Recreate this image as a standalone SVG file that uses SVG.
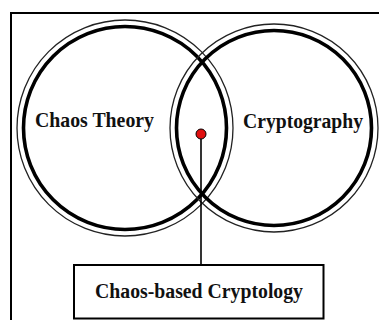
<svg xmlns="http://www.w3.org/2000/svg" width="379" height="320" viewBox="0 0 379 320">
<style>
.thin{fill:none;stroke:#222;stroke-width:1.3}
.thick{fill:none;stroke:#000;stroke-width:3.6}
.lbl{font-family:"Liberation Serif","Times New Roman",serif;font-weight:bold;fill:#111}
</style>
<rect x="0" y="0" width="379" height="320" fill="#fff"/>
<rect x="11" y="13" width="420" height="420" fill="none" stroke="#000" stroke-width="2"/>
<g id="chaos-theory">
<circle class="thin" cx="125" cy="128" r="108"/>
<circle class="thick" cx="125" cy="128" r="101.5"/>
<text class="lbl" x="35" y="127" font-size="21.5" textLength="119" lengthAdjust="spacingAndGlyphs">Chaos Theory</text>
</g>
<g id="cryptography">
<circle class="thin" cx="274" cy="128" r="104"/>
<circle class="thick" cx="274" cy="128" r="97.5"/>
<text class="lbl" x="243" y="128" font-size="20.5" textLength="120" lengthAdjust="spacingAndGlyphs">Cryptography</text>
</g>
<g id="connectors">
<line x1="201" y1="139" x2="201" y2="265" stroke="#000" stroke-width="1.6"/>
</g>
<g id="intersection-dot">
<circle cx="201" cy="134" r="5" fill="#e01010" stroke="#000" stroke-width="1"/>
</g>
<g id="chaos-based-cryptology">
<rect x="74" y="265" width="249.5" height="53.5" fill="#fff" stroke="#000" stroke-width="2"/>
<text class="lbl" x="95" y="298" font-size="20" textLength="208" lengthAdjust="spacingAndGlyphs">Chaos-based Cryptology</text>
</g>
</svg>
